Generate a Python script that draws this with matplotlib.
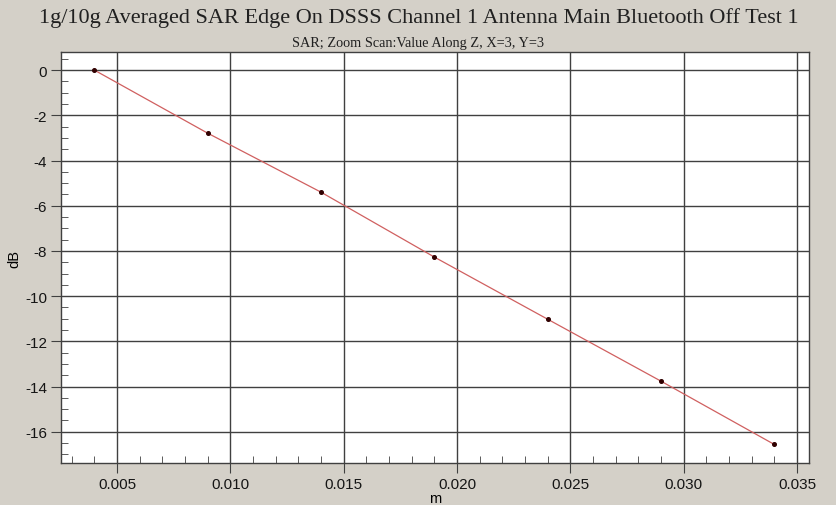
import matplotlib
matplotlib.use("Agg")
import matplotlib.pyplot as plt
from matplotlib.ticker import MultipleLocator

x_m = [0.004, 0.009, 0.014, 0.019, 0.024, 0.029, 0.034]
y_db = [0.0, -2.79, -5.40, -8.27, -11.02, -13.76, -16.56]
title = "1g/10g Averaged SAR Edge On DSSS Channel 1 Antenna Main Bluetooth Off Test 1"
subtitle = "SAR; Zoom Scan:Value Along Z, X=3, Y=3"

bg = "#D4D0C8"
fig = plt.figure(figsize=(8.37, 5.06), dpi=100, facecolor=bg)
ax = fig.add_axes([61/837, 1-464/506, (809-61)/837, (464-53)/506])
ax.set_facecolor("white")

ax.plot(x_m, y_db, color="#D06060", lw=0.9, zorder=3)
ax.plot(x_m, y_db, ls="none", marker="o", ms=2.6, color="#300000", zorder=4)

ax.set_xlim(0.00253, 0.03553)
ax.set_ylim(-17.38, 0.8)
ax.xaxis.set_major_locator(MultipleLocator(0.005))
ax.xaxis.set_minor_locator(MultipleLocator(0.001))
ax.yaxis.set_major_locator(MultipleLocator(2))
ax.yaxis.set_minor_locator(MultipleLocator(0.5))
ax.xaxis.set_major_formatter(plt.FuncFormatter(lambda v, p: f"{v:.3f}"))
ax.yaxis.set_major_formatter(plt.FuncFormatter(lambda v, p: "0" if abs(v) < 1e-9 else f"{v:.0f}"))

ax.grid(True, which="major", color="#404040", lw=1.0)
ax.tick_params(which="major", direction="out", length=7, color="#404040",
               labelsize=11, labelcolor="#151515", pad=3)
ax.tick_params(which="minor", direction="in", length=5, color="#404040")
for lab in ax.get_xticklabels() + ax.get_yticklabels():
    lab.set_family("Liberation Sans")
for s in ax.spines.values():
    s.set_color("#404040")
    s.set_linewidth(1.0)

ax.set_xlabel("m", fontsize=10.5, family="Liberation Sans", labelpad=0)
ax.set_ylabel("dB", fontsize=10.5, family="Liberation Sans", labelpad=3)

fig.text(0.5, 1-18/506, title, ha="center", va="center", fontsize=16,
         family="Liberation Serif", color="#202020")
fig.text(0.5, 1-44/506, subtitle, ha="center", va="center", fontsize=10.3,
         family="Liberation Serif", color="#202020")

fig.savefig("out.png", dpi=100, facecolor=bg)
